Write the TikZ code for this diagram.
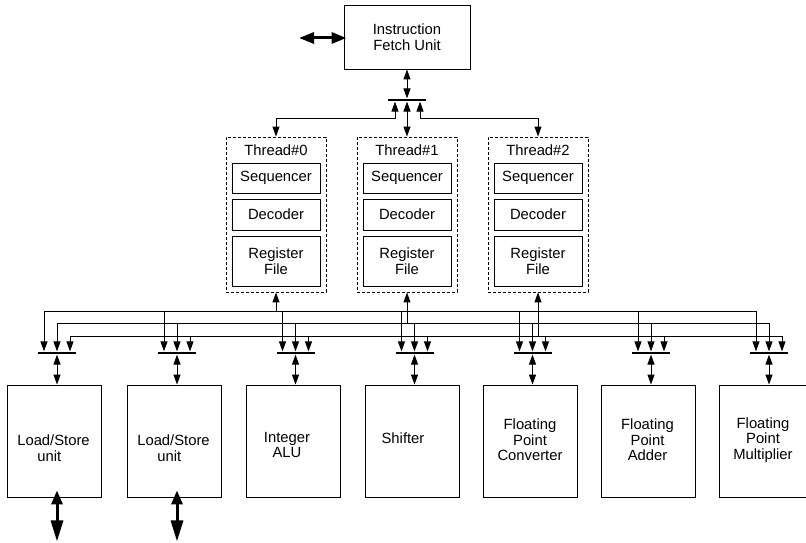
\documentclass[tikz,border=0pt]{standalone}
\usepackage{fontspec}
\setmainfont{Liberation Sans}
\usetikzlibrary{arrows.meta,calc}
\begin{document}
\begin{tikzpicture}[x=1pt,y=-1pt,
  txt/.style={font=\fontsize{14.8}{15.5}\selectfont, align=center, inner sep=0pt},
  box/.style={draw, line width=0.9pt, inner sep=0pt, txt},
  thr/.style={draw, line width=0.9pt, dash pattern=on 3pt off 2pt, minimum width=100pt, minimum height=155pt, inner sep=0pt},
  fub/.style={draw, line width=0.9pt, minimum width=94pt, minimum height=112pt, inner sep=0pt},
  barn/.style={fill=black, minimum width=38pt, minimum height=2.8pt, inner sep=0pt},
  bus/.style={line width=1pt, line cap=rect},
  ftip/.tip={Triangle[length=10pt,width=7pt]},
  ar/.style={-ftip, line width=1pt},
  dar/.style={ftip-ftip, line width=1pt},
  bigdar/.style={{Triangle[length=15pt,width=11pt]}-{Triangle[length=15pt,width=11pt]}, line width=3pt},
  bigdarv/.style={{Triangle[length=14pt,width=11pt]}-{Triangle[length=21pt,width=12pt]}, line width=3pt}
]
\useasboundingbox (0,0) rectangle (806,543);
\clip (0,0) rectangle (806,543);

% Instruction fetch unit
\node[box, minimum width=126pt, minimum height=64pt] (ifu) at (407,37) {Instruction\\Fetch Unit};
\node[barn] (ibar) at (407,100) {};
\coordinate (ext) at (299,38);
\draw[bigdar] (ext) -- ($(ifu.west |- ext)+(3,0)$);

% Threads
\foreach \n/\x in {0/276,1/407,2/538} {
  \node[thr] (t\n) at (\x,214.5) {};
  \node[txt] (tl\n) at (\x,150) {Thread\#\n};
  \node[box, minimum width=88pt, minimum height=30pt] (sq\n) at (\x,178) {Sequencer};
  \node[box, minimum width=88pt, minimum height=31pt] (de\n) at (\x,214.5) {Decoder};
  \node[box, minimum width=88pt, minimum height=50pt] (rf\n) at (\x,261) {Register\\File};
}

\draw[dar] (ifu.south) -- (ibar.north);
\draw[dar] (ibar.south) -- (t1.north);
\draw[dar] ($(ibar.south)+(-12,0)$) -- ++(0,17) -| (t0.north);
\draw[dar] ($(ibar.south)+(13,0)$) -- ++(0,17) -| (t2.north);

% bus rows
\coordinate (r1) at (0,311);
\coordinate (r2) at (0,323);
\coordinate (r3) at (0,336);

% functional units
\foreach \i/\x in {1/57,2/177,3/295.5,4/414.5,5/532.5,6/651,7/769} {
  \node[fub] (u\i) at (\x-2.5,441) {};
  \node[barn] (b\i) at (\x,353) {};
  \coordinate (pa\i) at (\x-13,353);
  \coordinate (pb\i) at (\x,353);
  \coordinate (pc\i) at (\x+13,353);
  \draw[ar] (pa\i |- r1) -- (pa\i |- b\i.north);
  \draw[ar] (pb\i |- r2) -- (pb\i |- b\i.north);
  \draw[ar] (pc\i |- r3) -- (pc\i |- b\i.north);
  \draw[dar] (b\i.south) -- (b\i.south |- u\i.north);
}

\draw[bus] (pa1 |- r1) -- (pa7 |- r1);
\draw[bus] (pb1 |- r2) -- (pb7 |- r2);
\draw[bus] (pc1 |- r3) -- (pc7 |- r3);

\draw[ar] (t0.south |- r1) -- (t0.south);
\draw[ar] (t1.south |- r2) -- (t1.south);
\draw[ar] (t2.south |- r3) -- (t2.south);

% unit labels
\node[txt, align=left] (l1) at ($(u1)+(-1,7)$) {Load/Store\\\hspace*{20pt}unit};
\node[txt, align=left] (l2) at ($(u2)+(-1,7)$) {Load/Store\\\hspace*{20pt}unit};
\node[txt] (l3) at ($(u3)+(-6,4)$) {Integer\\ALU};
\node[txt] (l4) at ($(u4)+(-9,-3)$) {Shifter};
\node[txt] (l5) at ($(u5)+(0,-1)$) {Floating\\Point\\Converter};
\node[txt] (l6) at ($(u6)+(-1,-1)$) {Floating\\Point\\Adder};
\node[txt] (l7) at ($(u7)+(-3.5,-1)$) {Floating\\Point\\Multiplier};

% memory ports
\coordinate (m1) at ($(b1.south |- u1.south)+(0,44)$);
\coordinate (m2) at ($(b2.south |- u2.south)+(0,44)$);
\draw[bigdarv] ($(b1.south |- u1.south)+(0,-7)$) -- (m1);
\draw[bigdarv] ($(b2.south |- u2.south)+(0,-7)$) -- (m2);
\end{tikzpicture}
\end{document}
